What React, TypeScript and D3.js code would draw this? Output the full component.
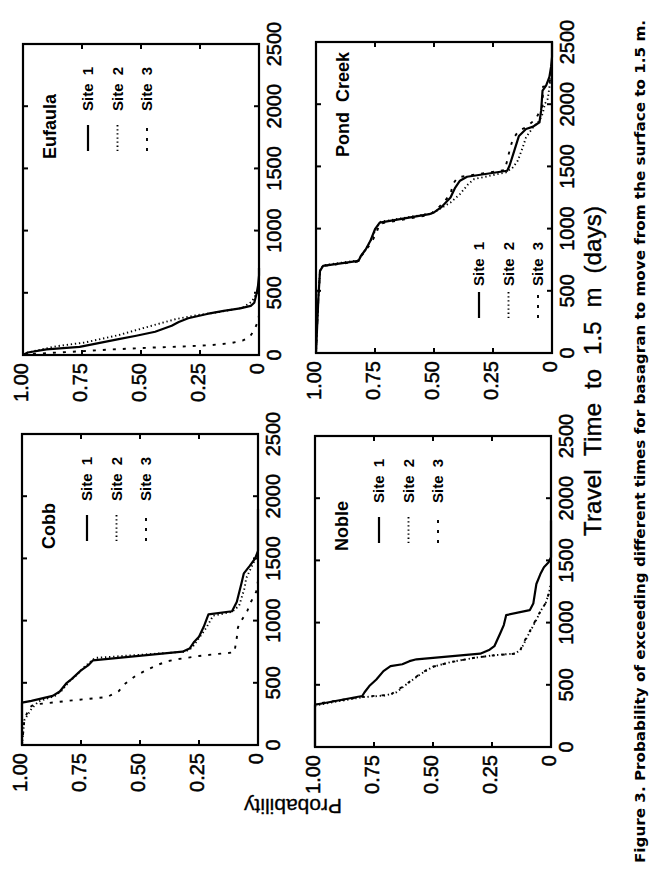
import { useEffect, useRef } from "react";
import * as d3 from "d3";

type Pt = [number, number]; // [travel time (days), exceedance probability]

const xTicks = [0, 500, 1000, 1500, 2000, 2500];
const yTicks = [0, 0.25, 0.5, 0.75, 1];
const yTickLabels = ["0", "0.25", "0.50", "0.75", "1.00"];
const siteNames = ["Site 1", "Site 2", "Site 3"];

const cobbSite1: Pt[] = [
  [0, 1], [340, 1], [355, 0.96], [395, 0.87], [430, 0.84], [500, 0.81], [530, 0.79],
  [600, 0.75], [640, 0.72], [680, 0.7], [750, 0.32], [775, 0.29], [830, 0.27], [870, 0.25],
  [950, 0.23], [1050, 0.21], [1075, 0.11], [1150, 0.09], [1300, 0.07], [1380, 0.06],
  [1440, 0.035], [1500, 0.012], [1560, 0], [1900, 0],
];
const cobbSite2: Pt[] = [
  [0, 1], [200, 0.99], [290, 0.96], [350, 0.93], [395, 0.86], [440, 0.83], [510, 0.8],
  [560, 0.77], [620, 0.74], [670, 0.71], [700, 0.69], [750, 0.31], [780, 0.28], [860, 0.25],
  [940, 0.22], [1040, 0.19], [1070, 0.11], [1120, 0.08], [1260, 0.057], [1340, 0.05],
  [1430, 0.028], [1500, 0.01], [1550, 0], [1800, 0],
];
const cobbSite3: Pt[] = [
  [0, 1], [200, 0.99], [300, 0.97], [325, 0.95], [360, 0.78], [385, 0.64], [433, 0.59],
  [490, 0.565], [555, 0.52], [605, 0.47], [648, 0.42], [675, 0.38], [690, 0.34], [715, 0.25],
  [730, 0.18], [745, 0.1], [860, 0.09], [945, 0.085], [1000, 0.07], [1080, 0.045],
  [1150, 0.03], [1230, 0.008], [1320, 0], [1600, 0],
];

const eufaulaSite1: Pt[] = [
  [0, 1], [20, 0.98], [45, 0.9], [65, 0.76], [95, 0.68], [125, 0.6], [155, 0.52], [187, 0.44],
  [235, 0.37], [265, 0.34], [295, 0.3], [330, 0.22], [355, 0.15], [375, 0.08], [395, 0.035],
  [420, 0.02], [494, 0.01], [560, 0.004], [640, 0], [700, 0],
];
const eufaulaSite2: Pt[] = [
  [0, 1], [20, 0.98], [45, 0.92], [70, 0.86], [100, 0.74], [160, 0.595], [235, 0.455],
  [290, 0.35], [318, 0.27], [345, 0.17], [380, 0.07], [430, 0.03], [494, 0.01], [547, 0],
  [700, 0],
];
const eufaulaSite3: Pt[] = [
  [0, 1], [10, 0.95], [25, 0.8], [45, 0.62], [60, 0.45], [70, 0.3], [80, 0.2], [95, 0.12],
  [115, 0.07], [145, 0.04], [200, 0.02], [270, 0.005], [320, 0], [400, 0],
];

const nobleSite1: Pt[] = [
  [0, 1], [340, 1], [350, 0.97], [410, 0.8], [440, 0.79], [490, 0.77], [543, 0.74],
  [610, 0.71], [650, 0.68], [665, 0.63], [690, 0.6], [705, 0.57], [750, 0.3], [782, 0.26],
  [810, 0.24], [915, 0.215], [980, 0.2], [1060, 0.19], [1100, 0.09], [1153, 0.075],
  [1310, 0.062], [1390, 0.045], [1445, 0.03], [1485, 0.01], [1525, 0], [1820, 0],
];
const nobleSite2: Pt[] = [
  [0, 1], [330, 1], [345, 0.97], [400, 0.8], [415, 0.7], [440, 0.655], [500, 0.615],
  [590, 0.55], [645, 0.5], [685, 0.42], [718, 0.32], [738, 0.24], [752, 0.15], [790, 0.125],
  [870, 0.105], [940, 0.085], [1030, 0.06], [1090, 0.045], [1160, 0.022], [1240, 0.008],
  [1320, 0], [1500, 0],
];
const nobleSite3: Pt[] = [
  [0, 1], [345, 1], [355, 0.97], [405, 0.79], [420, 0.68], [490, 0.625], [580, 0.56],
  [640, 0.51], [680, 0.43], [715, 0.33], [735, 0.25], [750, 0.15], [780, 0.13], [860, 0.11],
  [930, 0.09], [1020, 0.065], [1080, 0.048], [1150, 0.025], [1230, 0.01], [1300, 0],
  [1500, 0],
];

const pondSite1: Pt[] = [
  [0, 1], [440, 0.99], [660, 0.983], [700, 0.97], [740, 0.82], [780, 0.81], [830, 0.79],
  [900, 0.77], [995, 0.75], [1048, 0.73], [1116, 0.52], [1130, 0.5], [1170, 0.47],
  [1250, 0.43], [1330, 0.41], [1385, 0.39], [1417, 0.36], [1465, 0.19], [1505, 0.18],
  [1625, 0.16], [1745, 0.14], [1800, 0.11], [1820, 0.08], [1855, 0.053], [1950, 0.046],
  [2110, 0.04], [2150, 0.025], [2220, 0.011], [2300, 0.004], [2380, 0], [2500, 0],
];
const pondSite2: Pt[] = [
  [0, 1], [440, 0.99], [660, 0.983], [705, 0.97], [745, 0.82], [790, 0.805], [850, 0.785],
  [915, 0.765], [1005, 0.745], [1055, 0.725], [1120, 0.52], [1142, 0.49], [1210, 0.43],
  [1277, 0.39], [1357, 0.355], [1398, 0.33], [1452, 0.195], [1492, 0.166], [1546, 0.145],
  [1653, 0.124], [1734, 0.11], [1815, 0.08], [1868, 0.053], [1922, 0.04], [2003, 0.03],
  [2043, 0.018], [2150, 0.01], [2300, 0], [2500, 0],
];
const pondSite3: Pt[] = [
  [0, 1], [440, 0.99], [660, 0.983], [700, 0.97], [735, 0.82], [775, 0.81], [874, 0.77],
  [960, 0.745], [1040, 0.73], [1110, 0.52], [1150, 0.49], [1210, 0.46], [1277, 0.43],
  [1357, 0.42], [1411, 0.4], [1425, 0.36], [1470, 0.2], [1546, 0.19], [1626, 0.18],
  [1720, 0.166], [1788, 0.14], [1815, 0.11], [1882, 0.068], [1989, 0.04], [2140, 0.038],
  [2150, 0.012], [2298, 0], [2500, 0],
];

const FONT = "'Liberation Sans', Arial, Helvetica, sans-serif";

// the figure is a landscape page (878 x 656) turned a quarter turn to fit the portrait frame
const PAGE_W = 878;
const PANEL_W = 311;
const PANEL_H = 236;

const dashes = [null, "1.3 2.8", "3 7"];
const widths = [2.2, 1.9, 1.9];

const panels = [
  { name: "Cobb", left: 133, top: 22, series: [cobbSite1, cobbSite2, cobbSite3], lx: 204, ly: 65, gap: 14 },
  { name: "Eufaula", left: 523, top: 23, series: [eufaulaSite1, eufaulaSite2, eufaulaSite3], lx: 204, ly: 65, gap: 14 },
  { name: "Noble", left: 131, top: 315, series: [nobleSite1, nobleSite2, nobleSite3], lx: 204, ly: 64, gap: 14 },
  { name: "Pond Creek", left: 525, top: 316, series: [pondSite1, pondSite2, pondSite3], lx: 35, ly: 163, gap: 6 },
];

export default function App() {
  const ref = useRef<SVGSVGElement | null>(null);

  useEffect(() => {
    if (!ref.current) return;
    const svg = d3.select(ref.current);
    svg.selectAll("*").remove();

    svg.append("rect").attr("width", 656).attr("height", 878).attr("fill", "#fff");

    const page = svg
      .append("g")
      .attr("transform", `translate(0,${PAGE_W}) rotate(-90)`);

    panels.forEach((p) => {
      const x = d3.scaleLinear().domain([0, 2500]).range([p.left, p.left + PANEL_W]);
      const y = d3.scaleLinear().domain([0, 1]).range([p.top + PANEL_H, p.top]);
      const g = page.append("g");

      // MARK: curves
      const line = d3
        .line<Pt>()
        .x((d) => x(d[0]))
        .y((d) => y(d[1]));

      p.series.forEach((s, i) => {
        g.append("path")
          .attr("d", line(s) || "")
          .attr("fill", "none")
          .attr("stroke", "#000")
          .attr("stroke-width", widths[i])
          .attr("stroke-dasharray", dashes[i])
          .attr("stroke-linejoin", "round");
      });

      // MARK: frame and inward ticks on all sides
      g.append("rect")
        .attr("x", p.left)
        .attr("y", p.top)
        .attr("width", PANEL_W)
        .attr("height", PANEL_H)
        .attr("fill", "none")
        .attr("stroke", "#000")
        .attr("stroke-width", 2.2);

      const tl = 5;
      xTicks.slice(1, -1).forEach((t) => {
        [[p.top + PANEL_H, -tl], [p.top, tl]].forEach(([y0, d]) => {
          g.append("line")
            .attr("x1", x(t)).attr("x2", x(t))
            .attr("y1", y0).attr("y2", y0 + d)
            .attr("stroke", "#000").attr("stroke-width", 2);
        });
      });
      yTicks.slice(1, -1).forEach((v) => {
        [[p.left, tl], [p.left + PANEL_W, -tl]].forEach(([x0, d]) => {
          g.append("line")
            .attr("x1", x0).attr("x2", x0 + d)
            .attr("y1", y(v)).attr("y2", y(v))
            .attr("stroke", "#000").attr("stroke-width", 2);
        });
      });

      // MARK: tick labels
      xTicks.forEach((t) => {
        g.append("text")
          .attr("x", x(t))
          .attr("y", p.top + PANEL_H + 22)
          .attr("text-anchor", "middle")
          .attr("font-family", FONT)
          .attr("font-size", 20)
          .attr("stroke", "#000")
          .attr("stroke-width", 0.5)
          .text(String(t));
      });
      yTicks.forEach((v, i) => {
        g.append("text")
          .attr("x", p.left - 8)
          .attr("y", y(v) + 5)
          .attr("text-anchor", "end")
          .attr("font-family", FONT)
          .attr("font-size", 20)
          .attr("stroke", "#000")
          .attr("stroke-width", 0.5)
          .text(yTickLabels[i]);
      });

      // MARK: title and legend
      g.append("text")
        .attr("x", p.left + 196)
        .attr("y", p.top + 33)
        .attr("font-family", FONT)
        .attr("font-weight", "bold")
        .attr("font-size", 18)
        .style("white-space", "pre")
        .text(p.name === "Pond Creek" ? "Pond  Creek" : p.name);

      siteNames.forEach((name, i) => {
        const ly = p.top + p.ly + i * 29.5;
        const lx = p.left + p.lx;
        g.append("line")
          .attr("x1", lx).attr("x2", lx + 26)
          .attr("y1", ly).attr("y2", ly)
          .attr("stroke", "#000")
          .attr("stroke-width", widths[i])
          .attr("stroke-dasharray", dashes[i]);
        g.append("text")
          .attr("x", lx + 26 + p.gap)
          .attr("y", ly + 5)
          .attr("font-family", FONT)
          .attr("font-weight", "bold")
          .attr("font-size", 15)
          .style("white-space", "pre")
          .text(name.replace(" ", "  "));
      });
    });

    // MARK: axis titles and caption
    page.append("text")
      .attr("x", 507)
      .attr("y", 601)
      .attr("text-anchor", "middle")
      .attr("textLength", 330)
      .attr("lengthAdjust", "spacing")
      .attr("font-family", FONT)
      .attr("font-size", 24)
      .attr("stroke", "#000")
      .attr("stroke-width", 0.4)
      .style("white-space", "pre")
      .text("Travel  Time  to  1.5  m  (days)");

    page.append("text")
      .attr("transform", "translate(79,293) rotate(-90)")
      .attr("text-anchor", "middle")
      .attr("font-family", FONT)
      .attr("font-size", 21)
      .attr("stroke", "#000")
      .attr("stroke-width", 0.3)
      .text("Probability");

    page.append("text")
      .attr("x", 15)
      .attr("y", 645)
      .attr("textLength", 843)
      .attr("lengthAdjust", "spacingAndGlyphs")
      .attr("font-family", "'Liberation Sans Narrow', 'DejaVu Sans Condensed', sans-serif")
      .attr("font-weight", "bold")
      .attr("font-size", 14)
      .text("Figure 3. Probability of exceeding different times for basagran to move from the surface to 1.5 m.");
  }, []);

  return (
    <svg
      ref={ref}
      width={656}
      height={878}
      style={{ position: "absolute", left: 0, top: 0 }}
    />
  );
}
